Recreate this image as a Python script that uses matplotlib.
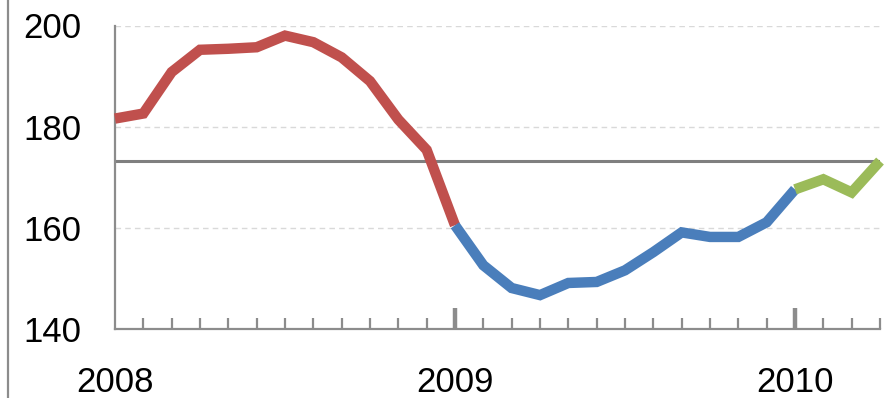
import matplotlib
matplotlib.use("Agg")
import matplotlib.pyplot as plt
from matplotlib.lines import Line2D

# Monthly index values, Jan 2008 .. Apr 2010
values_2008 = [181.6, 182.6, 190.8, 195.2, 195.4, 195.7, 198.0, 196.7, 193.7, 189.0, 181.4, 175.4, 160.5]
values_2009 = [160.5, 152.6, 148.1, 146.7, 149.1, 149.3, 151.6, 155.2, 159.1, 158.2, 158.2, 161.1, 167.6]
values_2010 = [167.6, 169.6, 167.0, 173.2]
reference_level = 173.2
year_labels = ["2008", "2009", "2010"]
y_ticks = [140, 160, 180, 200]

red, blue, green = "#C0504D", "#4A7EBB", "#9BBB59"
axis_grey = "#8C8C8C"

W, H, DPI = 893, 398, 100
fig = plt.figure(figsize=(W / DPI, H / DPI), dpi=DPI)
ax = fig.add_axes([115 / W, 1 - 329 / H, (880 - 115) / W, (329 - 25.5) / H])

n_total = len(values_2008) + len(values_2009) + len(values_2010) - 3
ax.set_xlim(0, n_total)
ax.set_ylim(y_ticks[0], y_ticks[-1])

# dashed grid
for y in y_ticks[1:]:
    ax.axhline(y, color="#D9D9D9", lw=1, ls=(0, (4, 3)), zorder=1)

# reference level
ax.axhline(reference_level, color="#7F7F7F", lw=2.2, zorder=2)

start = 0
for vals, col in [(values_2008, red), (values_2009, blue), (values_2010, green)]:
    xs = list(range(start, start + len(vals)))
    ax.plot(xs, vals, color=col, lw=7.5, solid_capstyle="butt",
            solid_joinstyle="miter", clip_on=False, zorder=3)
    start = xs[-1]

# spines
for s in ["top", "right"]:
    ax.spines[s].set_visible(False)
for s in ["left", "bottom"]:
    ax.spines[s].set_color(axis_grey)
    ax.spines[s].set_linewidth(1.6)

# y ticks
ax.set_yticks(y_ticks)
ax.set_yticklabels([str(v) for v in y_ticks], fontsize=25, family="Liberation Sans")
ax.tick_params(axis="y", length=0, pad=24)

# x ticks: monthly minor ticks inside, taller year ticks
ax.set_xticks(range(0, n_total + 1), minor=True)
ax.set_xticks([0, 12, 24])
ax.set_xticklabels(year_labels, fontsize=25, family="Liberation Sans")
ax.tick_params(axis="x", which="minor", direction="in", length=8, width=1.6, color=axis_grey)
ax.tick_params(axis="x", which="major", direction="in", length=15, width=3.2,
               color=axis_grey, pad=27)
ax.xaxis.get_major_ticks()[0].tick1line.set_visible(False)

# outer frame line on the left
fig.add_artist(Line2D([8 / W, 8 / W], [0, 1], color=axis_grey, lw=1.6))

fig.savefig("out.png", dpi=DPI)
